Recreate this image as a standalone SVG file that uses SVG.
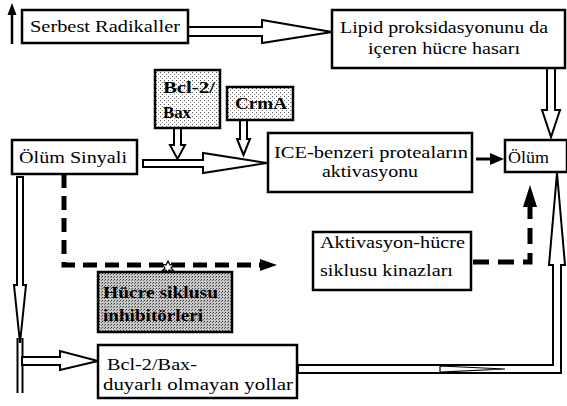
<svg xmlns="http://www.w3.org/2000/svg" width="567" height="406" viewBox="0 0 567 406">
<style>
.box{fill:#fff;stroke:#000;stroke-width:2.5}
.t{font-family:"Liberation Serif","Times New Roman",serif;font-size:17px;fill:#000}
.b{font-weight:bold}
.hol{fill:#fff;stroke:#000;stroke-width:2;stroke-linejoin:miter}
.dash{fill:none;stroke:#000;stroke-width:5;stroke-dasharray:14 8}
.solid{fill:#000;stroke:none}
</style>
<defs>
<pattern id="dots" width="4" height="4" patternUnits="userSpaceOnUse">
<rect width="4" height="4" fill="#fff"/>
<rect x="0" y="0" width="1" height="1" fill="#555"/>
<rect x="2" y="2" width="1" height="1" fill="#888"/>
</pattern>
<pattern id="dots2" width="3" height="3" patternUnits="userSpaceOnUse">
<rect width="3" height="3" fill="#c8c8c8"/>
<rect x="0" y="0" width="1" height="1" fill="#333"/>
<rect x="2" y="1" width="1" height="1" fill="#666"/>
</pattern>
</defs>

<g id="connectors">
<!-- top-left up arrow -->
<line x1="12" y1="44" x2="12" y2="12" stroke="#000" stroke-width="2.5"/>
<polygon class="solid" points="7.5,15 12,3 16.5,15"/>
<!-- Serbest -> Lipid -->
<polygon class="hol" points="188,27 262,27 262,20 332,32 262,43 262,36 188,36"/>
<!-- Lipid -> Olum -->
<polygon class="hol" points="547,68 555,68 555,110 560,110 551,137 542,110 547,110"/>
<!-- Bcl-2 down -->
<polygon class="hol" points="174,128 181,128 181,145 185,145 177.5,159 170,145 174,145"/>
<!-- CrmA down -->
<polygon class="hol" points="240,120 247,120 247,139 250,139 243.5,155 237,139 240,139"/>
<!-- Olum Sinyali -> ICE -->
<polygon class="hol" points="143,160 203,160 203,153 267,163 203,173 203,167 143,167"/>
<!-- ICE -> Olum -->
<line x1="476" y1="159" x2="492" y2="159" stroke="#000" stroke-width="3"/>
<polygon class="solid" points="490,153 504,159 490,165"/>
<!-- dashed from Olum Sinyali -->
<polyline class="dash" points="64,174 64,265 262,265"/>
<polygon class="solid" points="260,259 277,265 260,271"/>
<!-- inhibition star -->
<polygon points="168,261 170,265 174,264 171,268 174,271 169,270 168,274 166,270 162,271 165,268 162,264 166,265" fill="#fff" stroke="#000" stroke-width="1.2"/>
<!-- Aktivasyon -> Olum dashed -->
<polyline class="dash" points="473,262 530,262 530,205" style="stroke-dasharray:16 9"/>
<polygon class="solid" points="523,207 530,185 537,207"/>
<!-- left vertical hollow -->
<path class="hol" d="M17,177 V285 H14 L20,343 L26,285 H23 V177 Z"/>
<line x1="17.5" y1="338" x2="17.5" y2="393" stroke="#000" stroke-width="2"/>
<line x1="22.5" y1="338" x2="22.5" y2="393" stroke="#000" stroke-width="2"/>
<!-- branch to Bcl-2/Bax-duyarli -->
<polygon class="hol" points="22,357 60,357 60,351 98,361 60,370 60,365 22,365"/>
<!-- bottom route to Olum -->
<path class="hol" d="M298,365 H553 V265 H549 L557,173 L565,265 H561 V373 H298 Z"/>
<polygon points="440,366 505,369 440,372" fill="none" stroke="#000" stroke-width="1.2"/>
</g>

<g id="serbest">
<rect class="box" x="22" y="10" width="166" height="33"/>
<text class="t" x="30" y="32" font-size="18" textLength="150" lengthAdjust="spacingAndGlyphs">Serbest Radikaller</text>
</g>

<g id="lipid">
<rect class="box" x="332" y="10" width="233" height="58"/>
<text class="t" x="340" y="33" textLength="208" lengthAdjust="spacingAndGlyphs">Lipid proksidasyonunu da</text>
<text class="t" x="368" y="54" textLength="152" lengthAdjust="spacingAndGlyphs">içeren hücre hasarı</text>
</g>

<g id="bcl2">
<rect x="155" y="70" width="65" height="58" fill="url(#dots)" stroke="#000" stroke-width="2.5"/>
<text class="t b" x="163" y="93" textLength="52" lengthAdjust="spacingAndGlyphs">Bcl-2/</text>
<text class="t b" x="163" y="118" textLength="28" lengthAdjust="spacingAndGlyphs">Bax</text>
</g>

<g id="crma">
<rect x="227" y="87" width="66" height="33" fill="url(#dots)" stroke="#000" stroke-width="2.5"/>
<text class="t b" x="235" y="109" textLength="52" lengthAdjust="spacingAndGlyphs">CrmA</text>
</g>

<g id="olum-sinyali">
<rect class="box" x="12" y="140" width="125" height="34"/>
<text class="t" x="19" y="163" textLength="108" lengthAdjust="spacingAndGlyphs">Ölüm Sinyali</text>
</g>

<g id="ice">
<rect class="box" x="268" y="133" width="204" height="59"/>
<text class="t" x="274" y="158" textLength="194" lengthAdjust="spacingAndGlyphs">ICE-benzeri proteaların</text>
<text class="t" x="322" y="177" textLength="96" lengthAdjust="spacingAndGlyphs">aktivasyonu</text>
</g>

<g id="olum">
<rect class="box" x="505" y="140" width="62" height="32"/>
<text class="t" x="508" y="163" textLength="41" lengthAdjust="spacingAndGlyphs">Ölüm</text>
</g>

<g id="aktivasyon">
<rect class="box" x="313" y="232" width="158" height="58"/>
<text class="t" x="320" y="248" textLength="145" lengthAdjust="spacingAndGlyphs">Aktivasyon-hücre</text>
<text class="t" x="320" y="276" textLength="133" lengthAdjust="spacingAndGlyphs">siklusu kinazları</text>
</g>

<g id="hucre-siklusu">
<rect x="98" y="272" width="134" height="60" fill="url(#dots2)" stroke="#000" stroke-width="2.5"/>
<text class="t b" x="103" y="298" textLength="115" lengthAdjust="spacingAndGlyphs">Hücre siklusu</text>
<text class="t b" x="103" y="321" textLength="100" lengthAdjust="spacingAndGlyphs">inhibitörleri</text>
</g>

<g id="bcl2-duyarli">
<rect class="box" x="98" y="345" width="199" height="53"/>
<text class="t" x="107" y="370" textLength="90" lengthAdjust="spacingAndGlyphs">Bcl-2/Bax-</text>
<text class="t" x="103" y="390" textLength="190" lengthAdjust="spacingAndGlyphs">duyarlı olmayan yollar</text>
</g>
</svg>
